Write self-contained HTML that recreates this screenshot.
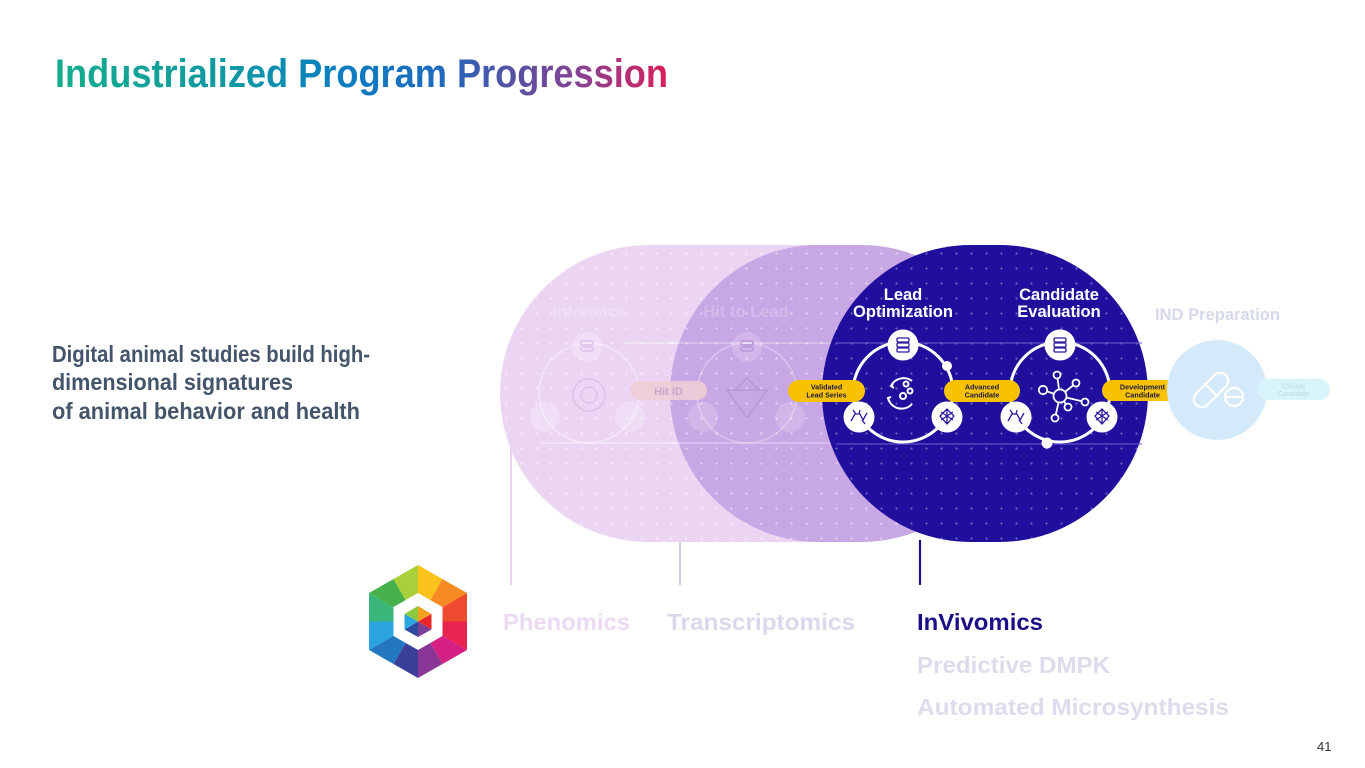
<!DOCTYPE html>
<html>
<head>
<meta charset="utf-8">
<style>
  html,body{margin:0;padding:0;background:#ffffff;}
  body{width:1365px;height:768px;overflow:hidden;}
  svg{display:block;}
</style>
</head>
<body>
<svg width="1365" height="768" viewBox="0 0 1365 768" xmlns="http://www.w3.org/2000/svg" font-family="Liberation Sans, Arial, sans-serif">
  <defs>
    <linearGradient id="tg" x1="55" y1="0" x2="668" y2="0" gradientUnits="userSpaceOnUse">
      <stop offset="0" stop-color="#14ad8c"/>
      <stop offset="0.3" stop-color="#0f97a4"/>
      <stop offset="0.45" stop-color="#0a7fc0"/>
      <stop offset="0.62" stop-color="#1d6bbf"/>
      <stop offset="0.72" stop-color="#4a55a8"/>
      <stop offset="0.86" stop-color="#8a4192"/>
      <stop offset="1" stop-color="#da1f58"/>
    </linearGradient>
    <pattern id="dots" x="4" y="6" width="15" height="15" patternUnits="userSpaceOnUse">
      <circle cx="7.5" cy="7.5" r="1.1" fill="#ffffff" fill-opacity="0.55"/>
    </pattern>
    <pattern id="dotsd" x="4" y="6" width="15" height="15" patternUnits="userSpaceOnUse">
      <circle cx="7.5" cy="7.5" r="1.1" fill="#ffffff" fill-opacity="0.35"/>
    </pattern>
  </defs>

  <!-- Title -->
  <text x="55" y="87" font-size="40" font-weight="bold" fill="url(#tg)" textLength="613" lengthAdjust="spacingAndGlyphs">Industrialized Program Progression</text>

  <!-- Left text -->
  <g font-size="23" font-weight="bold" fill="#44546a">
    <text x="52" y="362" textLength="318" lengthAdjust="spacingAndGlyphs">Digital animal studies build high-</text>
    <text x="52" y="390" textLength="241" lengthAdjust="spacingAndGlyphs">dimensional signatures</text>
    <text x="52" y="419" textLength="308" lengthAdjust="spacingAndGlyphs">of animal behavior and health</text>
  </g>

  <!-- Vertical connector lines -->
  <line x1="511" y1="445" x2="511" y2="585" stroke="#e4d2ee" stroke-width="2"/>
  <line x1="680" y1="445" x2="680" y2="585" stroke="#d8cce8" stroke-width="2"/>
  <line x1="920" y1="540" x2="920" y2="585" stroke="#1a1080" stroke-width="2.2"/>

  <!-- Light stadium -->
  <rect x="500" y="245" width="470" height="297" rx="148.5" fill="#ebd5f3"/>
  <rect x="500" y="245" width="470" height="297" rx="148.5" fill="url(#dots)"/>
  <!-- faint rings in light area -->
  <g fill="none" stroke="#ffffff" stroke-opacity="0.35" stroke-width="2">
    <circle cx="589" cy="393" r="50"/>
    <line x1="623" y1="343" x2="760" y2="343"/>
    <line x1="540" y1="443" x2="760" y2="443"/>
  </g>
  <g fill="#ffffff" fill-opacity="0.22">
    <circle cx="587" cy="347" r="15"/>
    <circle cx="545" cy="417" r="15"/>
    <circle cx="630" cy="417" r="15"/>
  </g>
  <g fill="none" stroke="#dcc2e8" stroke-width="1.5">
    <rect x="581" y="341" width="12" height="4" rx="1.5"/>
    <rect x="581" y="347" width="12" height="4" rx="1.5"/>
    <circle cx="589" cy="395" r="8"/>
    <circle cx="589" cy="395" r="16"/>
  </g>
  <text x="589" y="317" font-size="16.5" font-weight="bold" fill="#efdff5" text-anchor="middle">Inference</text>

  <!-- Medium stadium -->
  <rect x="670" y="245" width="340" height="297" rx="148.5" fill="#c8a7e5"/>
  <rect x="670" y="245" width="340" height="297" rx="148.5" fill="url(#dots)"/>
  <g fill="none" stroke="#ffffff" stroke-opacity="0.25" stroke-width="2">
    <circle cx="747" cy="393" r="50"/>
    <line x1="670" y1="343" x2="840" y2="343"/>
    <line x1="670" y1="443" x2="840" y2="443"/>
  </g>
  <g fill="#ffffff" fill-opacity="0.18">
    <circle cx="747" cy="347" r="15"/>
    <circle cx="703" cy="417" r="15"/>
    <circle cx="790" cy="417" r="15"/>
  </g>
  <g fill="none" stroke="#b996da" stroke-width="1.5">
    <rect x="741" y="341" width="12" height="4" rx="1.5"/>
    <rect x="741" y="347" width="12" height="4" rx="1.5"/>
    <path d="M727 390 L767 390 L747 418 Z"/>
    <path d="M735 390 L747 378 L759 390"/>
  </g>
  <text x="746" y="317" font-size="16.5" font-weight="bold" fill="#d3baeb" text-anchor="middle">Hit to Lead</text>

  <!-- Hit ID pill -->
  <rect x="630" y="381" width="77" height="19" rx="9.5" fill="#efcdd6" fill-opacity="0.9"/>
  <text x="668.5" y="395" font-size="11" font-weight="bold" fill="#c7a6cc" text-anchor="middle">Hit ID</text>

  <!-- Dark stadium -->
  <rect x="822" y="245" width="326" height="297" rx="148.5" fill="#1f0f9c"/>
  <rect x="822" y="245" width="326" height="297" rx="148.5" fill="url(#dotsd)"/>
  <g stroke="#6a5fd0" stroke-opacity="0.7" stroke-width="1.5">
    <line x1="836" y1="343" x2="1142" y2="343"/>
    <line x1="836" y1="444" x2="1142" y2="444"/>
  </g>

  <!-- Stage titles -->
  <g font-size="16.5" font-weight="bold" fill="#ffffff" text-anchor="middle">
    <text x="903" y="300">Lead</text>
    <text x="903" y="317">Optimization</text>
    <text x="1059" y="300">Candidate</text>
    <text x="1059" y="317">Evaluation</text>
  </g>

  <!-- Rings -->
  <g fill="none" stroke="#ffffff" stroke-width="3">
    <circle cx="903" cy="392" r="50"/>
    <circle cx="1060" cy="392" r="50"/>
  </g>
  <g fill="#ffffff">
    <circle cx="903" cy="345" r="15.5"/>
    <circle cx="859" cy="417" r="15.5"/>
    <circle cx="947" cy="417" r="15.5"/>
    <circle cx="947" cy="366" r="5"/>
    <circle cx="1060" cy="345" r="15.5"/>
    <circle cx="1016" cy="417" r="15.5"/>
    <circle cx="1102" cy="417" r="15.5"/>
    <circle cx="1047" cy="443" r="5.5"/>
  </g>

  <!-- icons inside white circles -->
  <g fill="none" stroke="#2a1aa0" stroke-width="1.3">
    <rect x="897" y="338" width="12" height="4" rx="1.2"/>
    <rect x="897" y="343" width="12" height="4" rx="1.2"/>
    <rect x="897" y="348" width="12" height="4" rx="1.2"/>
    <rect x="1054" y="338" width="12" height="4" rx="1.2"/>
    <rect x="1054" y="343" width="12" height="4" rx="1.2"/>
    <rect x="1054" y="348" width="12" height="4" rx="1.2"/>
    <path d="M851 421 L855 414 L860 414 L863 420 L867 413 M856 414 L853 410 M862 420 L865 424 M859 414 L860 410"/>
    <path d="M1008 421 L1012 414 L1017 414 L1020 420 L1024 413 M1013 414 L1010 410 M1019 420 L1022 424 M1016 414 L1017 410"/>
    <path d="M947 409 L940 416 L947 424 L954 416 Z M941 412 L953 420 M953 412 L941 420 M947 409 L947 424"/>
    <path d="M1102 409 L1095 416 L1102 424 L1109 416 Z M1096 412 L1108 420 M1108 412 L1096 420 M1102 409 L1102 424"/>
  </g>

  <!-- center icon LO -->
  <g fill="none" stroke="#ffffff" stroke-width="2">
    <path d="M912 381 A14 14 0 0 0 891 386"/>
    <path d="M893 384 L891 386 L894 388"/>
    <path d="M888 398 A14 14 0 0 0 912 404"/>
    <path d="M889 401 L888 398 L891 397"/>
    <circle cx="906" cy="384" r="2.5"/>
    <circle cx="910" cy="391" r="2.5"/>
    <circle cx="903" cy="396" r="3"/>
  </g>

  <!-- center icon CE -->
  <g fill="none" stroke="#ffffff" stroke-width="1.8">
    <line x1="1060" y1="396" x2="1043" y2="390"/>
    <line x1="1060" y1="396" x2="1057" y2="375"/>
    <line x1="1060" y1="396" x2="1076" y2="383"/>
    <line x1="1060" y1="396" x2="1085" y2="402"/>
    <line x1="1060" y1="396" x2="1068" y2="407"/>
    <line x1="1060" y1="396" x2="1055" y2="418"/>
    <circle cx="1060" cy="396" r="6.5" fill="#1f0f9c"/>
    <circle cx="1043" cy="390" r="4.2" fill="#1f0f9c"/>
    <circle cx="1057" cy="375" r="3.5" fill="#1f0f9c"/>
    <circle cx="1076" cy="383" r="3.5" fill="#1f0f9c"/>
    <circle cx="1085" cy="402" r="3.5" fill="#1f0f9c"/>
    <circle cx="1068" cy="407" r="3.5" fill="#1f0f9c"/>
    <circle cx="1055" cy="418" r="3.5" fill="#1f0f9c"/>
  </g>

  <!-- Yellow pills -->
  <g fill="#f8c200">
    <rect x="788" y="380" width="77" height="22" rx="11"/>
    <rect x="944" y="380" width="76" height="22" rx="11"/>
    <rect x="1102" y="380" width="81" height="21" rx="10.5"/>
  </g>
  <g font-size="7.2" font-weight="bold" fill="#1a1a40" text-anchor="middle">
    <text x="826.5" y="389.5">Validated</text>
    <text x="826.5" y="397.5">Lead Series</text>
    <text x="982" y="389.5">Advanced</text>
    <text x="982" y="397.5">Candidate</text>
    <text x="1142.5" y="389.5">Development</text>
    <text x="1142.5" y="397.5">Candidate</text>
  </g>

  <!-- IND Preparation -->
  <text x="1155" y="320" font-size="16.5" font-weight="bold" fill="#d6d9ea" textLength="125" lengthAdjust="spacingAndGlyphs">IND Preparation</text>
  <circle cx="1217" cy="390" r="50" fill="#d4eafa"/>
  <g fill="none" stroke="#ffffff" stroke-width="2.2">
    <rect x="1203" y="369" width="16" height="42" rx="8" transform="rotate(45 1211 390)"/>
    <line x1="1204" y1="383" x2="1218" y2="397"/>
    <circle cx="1234" cy="397" r="9"/>
    <line x1="1225" y1="397" x2="1243" y2="397"/>
  </g>

  <!-- Clinical candidate pill -->
  <rect x="1257" y="379" width="73" height="21" rx="10.5" fill="#d9f4fa"/>
  <g font-size="7" fill="#bcdbe4" text-anchor="middle">
    <text x="1293.5" y="388.5">Clinical</text>
    <text x="1293.5" y="396">Candidate</text>
  </g>

  <!-- Bottom labels -->
  <g font-size="23" font-weight="bold">
    <text x="503" y="630" fill="#ecdaf3" textLength="127" lengthAdjust="spacingAndGlyphs">Phenomics</text>
    <text x="667" y="630" fill="#dcd8ec" textLength="188" lengthAdjust="spacingAndGlyphs">Transcriptomics</text>
    <text x="917" y="630" fill="#1a0f85" textLength="126" lengthAdjust="spacingAndGlyphs">InVivomics</text>
    <text x="917" y="673" fill="#dcdcec" textLength="193" lengthAdjust="spacingAndGlyphs">Predictive DMPK</text>
    <text x="917" y="715" fill="#dcdcec" textLength="312" lengthAdjust="spacingAndGlyphs">Automated Microsynthesis</text>
  </g>

  <!-- Logo -->
  <g>
    <polygon points="418,621.5 418,565 442.5,579" fill="#fbc21b"/>
    <polygon points="418,621.5 442.5,579 467,593" fill="#f58b22"/>
    <polygon points="418,621.5 467,593 467,621.5" fill="#ee4a30"/>
    <polygon points="418,621.5 467,621.5 467,650" fill="#ea2250"/>
    <polygon points="418,621.5 467,650 442.5,664" fill="#d41f83"/>
    <polygon points="418,621.5 442.5,664 418,678" fill="#8a3696"/>
    <polygon points="418,621.5 418,678 393.5,664" fill="#3c3f9a"/>
    <polygon points="418,621.5 393.5,664 369,650" fill="#2277c0"/>
    <polygon points="418,621.5 369,650 369,621.5" fill="#2aa3df"/>
    <polygon points="418,621.5 369,621.5 369,593" fill="#3bb67a"/>
    <polygon points="418,621.5 369,593 393.5,579" fill="#47b04a"/>
    <polygon points="418,621.5 393.5,579 418,565" fill="#a9cf3a"/>
    <polygon points="418,593 442.5,607 442.5,636 418,650 393.5,636 393.5,607" fill="#ffffff"/>
    <polygon points="418,621.5 418,606 431.5,614" fill="#f6a21f"/>
    <polygon points="418,621.5 431.5,614 431.5,629.5" fill="#e8262b"/>
    <polygon points="418,621.5 431.5,629.5 418,637" fill="#7b3f98"/>
    <polygon points="418,621.5 418,637 404.5,629.5" fill="#2e4a9e"/>
    <polygon points="418,621.5 404.5,629.5 404.5,614" fill="#29a8e0"/>
    <polygon points="418,621.5 404.5,614 418,606" fill="#8dc63f"/>
  </g>

  <!-- Page number -->
  <text x="1317" y="751" font-size="13" fill="#333333">41</text>
</svg>
</body>
</html>
